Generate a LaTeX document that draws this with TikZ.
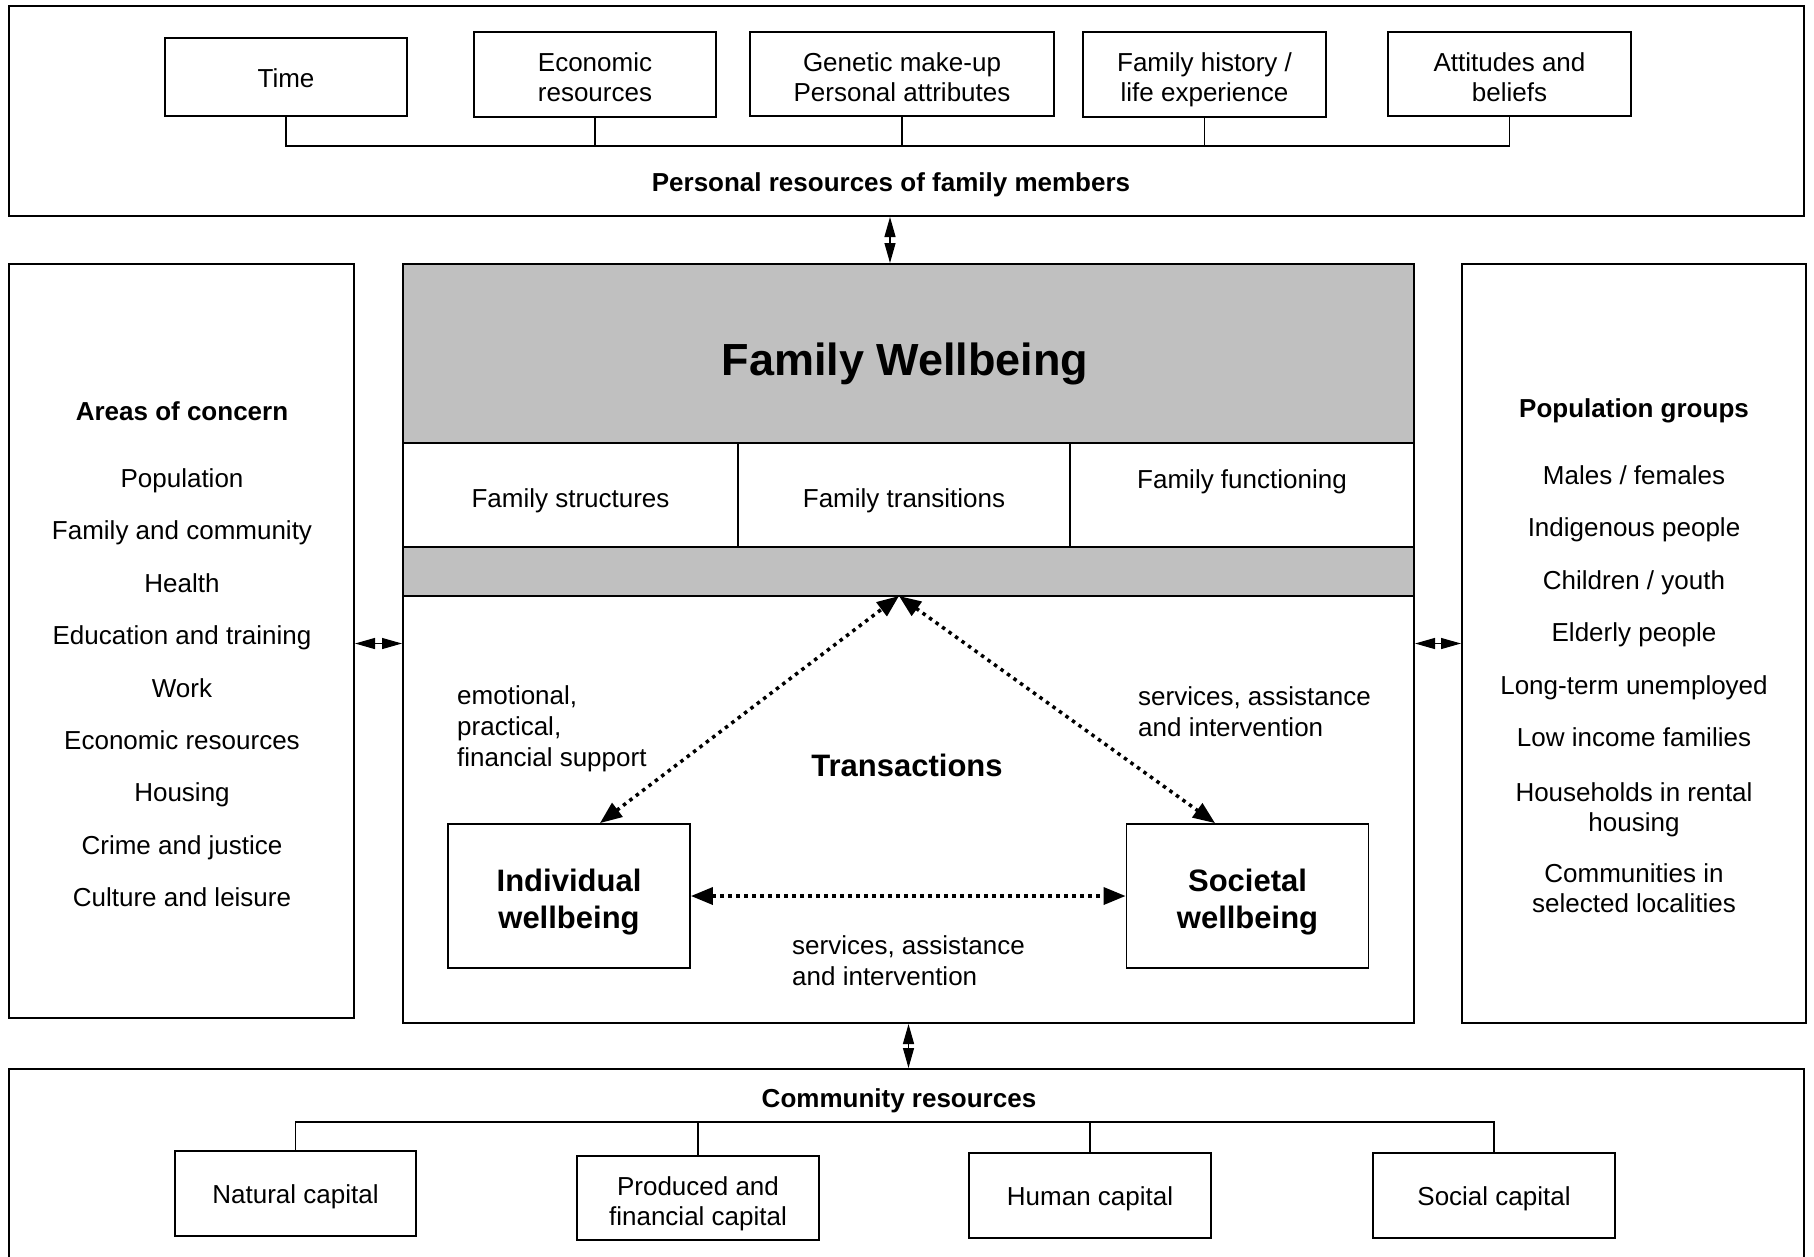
\documentclass[tikz,border=0pt]{standalone}
\usepackage{fontspec}
\setmainfont{Liberation Sans}
\usetikzlibrary{arrows.meta,positioning}
\definecolor{bandgray}{RGB}{192,192,192}
\tikzset{outerbox/.style={
    % The shape:
    rectangle,
    % The border:
    line width=2pt,
    draw=black,
    },
    resbox/.style={
    rectangle,
    line width=1.8pt,
    draw=black,
    inner sep=0pt,
    align=center,
    text height=20.5pt, text depth=0pt,
    % Font
    font=\fontsize{26}{30}\selectfont,
    },
    resbox2/.style={resbox,
    text height=54pt, text depth=0pt,
    },
    wellbox/.style={
    rectangle,
    minimum width=242pt,
    minimum height=144pt,
    line width=1.8pt,
    draw=black,
    align=center,
    text height=65pt, text depth=0pt,
    font=\bfseries\fontsize{31}{37}\selectfont,
    },
    band/.style={
    rectangle,
    minimum width=1011pt,
    fill=bandgray,
    draw=black,
    line width=1.8pt,
    },
    cell/.style={
    rectangle,
    minimum height=104pt,
    draw=black,
    line width=1.2pt,
    text height=24pt, text depth=0pt,
    font=\fontsize{26}{30}\selectfont,
    },
    heading/.style={inner sep=0pt, text height=19pt, text depth=6pt,
    font=\bfseries\fontsize{26}{30}\selectfont},
    listitem/.style={inner sep=0pt, text height=19pt, text depth=6pt,
    font=\fontsize{26}{30}\selectfont},
    listitem2/.style={inner sep=0pt, align=center,
    font=\fontsize{26}{30}\selectfont},
    note/.style={inner sep=0pt, align=left,
    font=\fontsize{26}{31}\selectfont},
    treeline/.style={line width=1.5pt},
    linkarrow/.style={line width=1.2pt,
    {Triangle[length=20pt,width=11pt]}-{Triangle[length=20pt,width=11pt]}},
    dotarrow/.style={line width=3.5pt, dash pattern=on 3.5pt off 4.5pt,
    {Triangle[length=22pt,width=17pt]}-{Triangle[length=22pt,width=17pt]}},
}

\begin{document}
\begin{tikzpicture}[x=1pt, y=-1pt, node distance = 27pt and 0pt]
    \useasboundingbox (0,0) rectangle (1814,1256);

    % personal resources
    \node (personal) [outerbox, minimum width=1795pt, minimum height=210pt] at (906.5,111) {};
    \node (time)     [resbox, minimum width=242pt, minimum height=78pt] at (286,77) {Time};
    \node (econ)     [resbox2, minimum width=242pt, minimum height=85pt] at (595,74.5) {Economic\\resources};
    \node (genetic)  [resbox2, minimum width=304pt, minimum height=84pt] at (902,74) {Genetic make-up\\Personal attributes};
    \node (history)  [resbox2, minimum width=243pt, minimum height=85pt] at (1204.5,74.5) {Family history /\\life experience};
    \node (attitude) [resbox2, minimum width=243pt, minimum height=84pt] at (1509.5,74) {Attitudes and\\beliefs};
    \node (perslabel) [heading] at (891,185) {Personal resources of family members};
    \coordinate (pbar) at (0,146);
    \draw[treeline] (time.south) |- (attitude.south |- pbar) -- (attitude.south);
    \draw[treeline] (econ.south) -- (econ.south |- pbar);
    \draw[treeline] (genetic.south) -- (genetic.south |- pbar);
    \draw[treeline] (history.south) -- (history.south |- pbar);

    % areas of concern
    \node (areas) [outerbox, minimum width=345pt, minimum height=754pt] at (181.5,641) {};
    \node (areahead) [heading, anchor=base] at (182,420) {Areas of concern};
    \node (popn)     [listitem, below=42pt of areahead] {Population};
    \node (famcom)   [listitem, below=of popn]    {Family and community};
    \node (health)   [listitem, below=of famcom]  {Health};
    \node (edu)      [listitem, below=of health]  {Education and training};
    \node (work)     [listitem, below=of edu]     {Work};
    \node (econres)  [listitem, below=of work]    {Economic resources};
    \node (housing)  [listitem, below=of econres] {Housing};
    \node (crime)    [listitem, below=of housing] {Crime and justice};
    \node (culture)  [listitem, below=of crime]   {Culture and leisure};

    % population groups
    \node (popgroups) [outerbox, minimum width=344pt, minimum height=759pt] at (1634,643.5) {};
    \node (pophead)  [heading, anchor=base] at (1634,417) {Population groups};
    \node (sexes)    [listitem, below=42pt of pophead] {Males / females};
    \node (indig)    [listitem, below=of sexes]   {Indigenous people};
    \node (youth)    [listitem, below=of indig]   {Children / youth};
    \node (elderly)  [listitem, below=of youth]   {Elderly people};
    \node (unemp)    [listitem, below=of elderly] {Long-term unemployed};
    \node (lowinc)   [listitem, below=of unemp]   {Low income families};
    \node (rental)   [listitem2, below=29.5pt of lowinc] {Households in rental\\housing};
    \node (locality) [listitem2, below=of rental] {Communities in\\selected localities};

    % family wellbeing
    \node (centre)   [outerbox, minimum width=1011pt, minimum height=759pt] at (908.5,643.5) {};
    \node (topband)  [band, minimum height=179pt] at (908.5,353.5) {};
    \node (lowband)  [band, minimum height=49pt] at (908.5,571.5) {};
    \node (title)    [font=\bfseries\fontsize{45}{54}\selectfont, inner sep=0pt] at (905,364) {Family Wellbeing};
    \node (structures)  [cell, minimum width=335pt] at (570.5,495) {Family structures};
    \node (transitions) [cell, minimum width=332pt] at (904,495) {Family transitions};
    \node (functioning) [cell, minimum width=344pt, text height=19pt, text depth=32pt] at (1242,495) {Family functioning};
    \node (transact) [heading, font=\bfseries\fontsize{31}{37}\selectfont] at (907,770) {Transactions};
    \node (indiv)    [wellbox] at (569,896) {Individual\\wellbeing};
    \node (societal) [wellbox] at (1247.5,896) {Societal\\wellbeing};
    \node (supportnote) [note, anchor=north west] at (457,685) {emotional,\\practical,\\financial support};
    \node (servnote)    [note, anchor=north west] at (1138,686) {services, assistance\\and intervention};
    \node (servnote2)   [note, anchor=north west] at (792,935) {services, assistance\\and intervention};
    \coordinate (apex) at (899,596);
    \draw[dotarrow] (indiv.67) -- (apex);
    \draw[dotarrow] (apex) -- (societal.114);
    \draw[dotarrow] (indiv.east) -- (societal.west);

    % community resources
    \node (community) [outerbox, minimum width=1795pt, minimum height=200pt] at (906.5,1169) {};
    \node (commlabel) [heading] at (899,1101) {Community resources};
    \node (natural)  [resbox, minimum width=241pt, minimum height=85pt] at (295.5,1193.5) {Natural capital};
    \node (produced) [resbox2, minimum width=242pt, minimum height=84pt] at (698,1198) {Produced and\\financial capital};
    \node (human)    [resbox, minimum width=242pt, minimum height=85pt] at (1090,1195.5) {Human capital};
    \node (social)   [resbox, minimum width=242pt, minimum height=85pt] at (1494,1195.5) {Social capital};
    \coordinate (cbar) at (0,1122);
    \draw[treeline] (natural.north) |- (social.north |- cbar) -- (social.north);
    \draw[treeline] (produced.north) -- (produced.north |- cbar);
    \draw[treeline] (human.north) -- (human.north |- cbar);

    % links between the parts
    \coordinate (pcx) at (890,0);
    \draw[linkarrow] (personal.south -| pcx) -- (centre.north -| pcx);
    \draw[linkarrow] (areas.east |- centre.west) -- (centre.west);
    \draw[linkarrow] (centre.east) -- (popgroups.west |- centre.east);
    \draw[linkarrow] (centre.south) -- (community.north -| centre.south);
\end{tikzpicture}
\end{document}
